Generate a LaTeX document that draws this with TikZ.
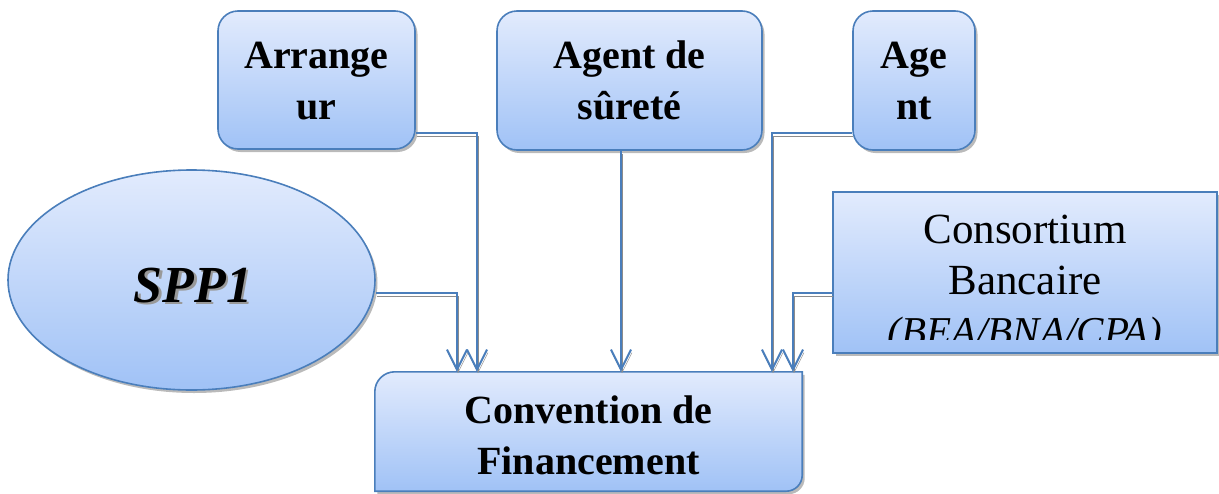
\documentclass[tikz,border=0pt]{standalone}
\usepackage{fontspec}
\setmainfont{Liberation Serif}
\usetikzlibrary{shapes.geometric,shadows,arrows.meta}
\definecolor{bordblue}{RGB}{74,126,187}
\definecolor{topfill}{RGB}{226,235,253}
\definecolor{botfill}{RGB}{160,194,246}
\newcommand{\twolines}[2]{\begin{tabular}[t]{@{}c@{}}#1\\#2\end{tabular}}
\begin{document}
\begin{tikzpicture}[x=1pt,y=1pt,
  boxsty/.style={draw=bordblue, line width=1.6pt, top color=topfill, bottom color=botfill,
    drop shadow={shadow xshift=2.5pt, shadow yshift=-3pt, fill=black!60, opacity=0.45}},
  conn/.style={draw=bordblue, line width=2pt, -{Straight Barb[length=20pt,width=20pt]},
    preaction={draw=black!45, transform canvas={shift={(1pt,-3pt)}}}},
  lbl/.style={anchor=base, inner sep=0pt, font=\fontsize{40}{51}\selectfont\bfseries}]
\useasboundingbox (0,0) rectangle (1219,-493);

% boxes
\node[boxsty, rounded corners=20pt, minimum width=197pt, minimum height=138pt, inner sep=0pt] (arr) at (316.5,-80) {};
\node[boxsty, rounded corners=20pt, minimum width=265pt, minimum height=139pt, inner sep=0pt] (sur) at (629.5,-80.5) {};
\node[boxsty, rounded corners=20pt, minimum width=122pt, minimum height=139pt, inner sep=0pt] (agt) at (914,-80.5) {};
\node[boxsty, ellipse, minimum width=367pt, minimum height=220pt, inner sep=0pt] (spp) at (191.5,-280) {};
\node[boxsty, minimum width=384pt, minimum height=161pt, inner sep=0pt] (cons) at (1025,-272.5) {};
\node[minimum width=427pt, minimum height=119pt, inner sep=0pt] (conv) at (588.5,-431.5) {};
\path[boxsty] (conv.south west) -- ([yshift=-20pt]conv.north west)
  arc[start angle=180, end angle=90, radius=20pt] -- (conv.north east)
  -- ([yshift=16pt]conv.south east) arc[start angle=0, end angle=-90, radius=16pt] -- cycle;

% texts
\node[lbl] (arrt) at (316.5,-68) {\twolines{Arrange}{ur}};
\node[lbl] (surt) at (629.5,-68) {\twolines{Agent de}{sûreté}};
\node[lbl] (agtt) at (914,-68) {\twolines{Age}{nt}};
\node[lbl] (convt) at (588.5,-423) {\twolines{Convention de}{Financement}};
\node[anchor=base, inner sep=0pt, font=\fontsize{52}{60}\selectfont\bfseries\itshape] (sppt) at (193,-302)
  {\rlap{\hspace{2.5pt}\raisebox{-2.5pt}{\color{black!40}SPP1}}SPP1};
\begin{scope}
\clip (833,-192) rectangle (1217,-339);
\node[anchor=base, inner sep=0pt, font=\fontsize{43}{51}\selectfont] (const) at (1025,-243)
  {\begin{tabular}[t]{@{}c@{}}Consortium\\Bancaire\\\fontsize{41}{51}\selectfont\itshape(BEA/BNA/CPA)\end{tabular}};
\end{scope}

% connectors
\draw[conn] (arr.east |- 0,-133) -| (conv.north -| 477,0);
\draw[conn] (spp.east |- 0,-293) -| (conv.north -| 457,0);
\draw[conn] (sur.south -| 621,0) -- (conv.north -| 621,0);
\draw[conn] (agt.west |- 0,-133) -| (conv.north -| 772,0);
\draw[conn] (cons.west |- 0,-293) -| (conv.north -| 793,0);
\end{tikzpicture}
\end{document}
